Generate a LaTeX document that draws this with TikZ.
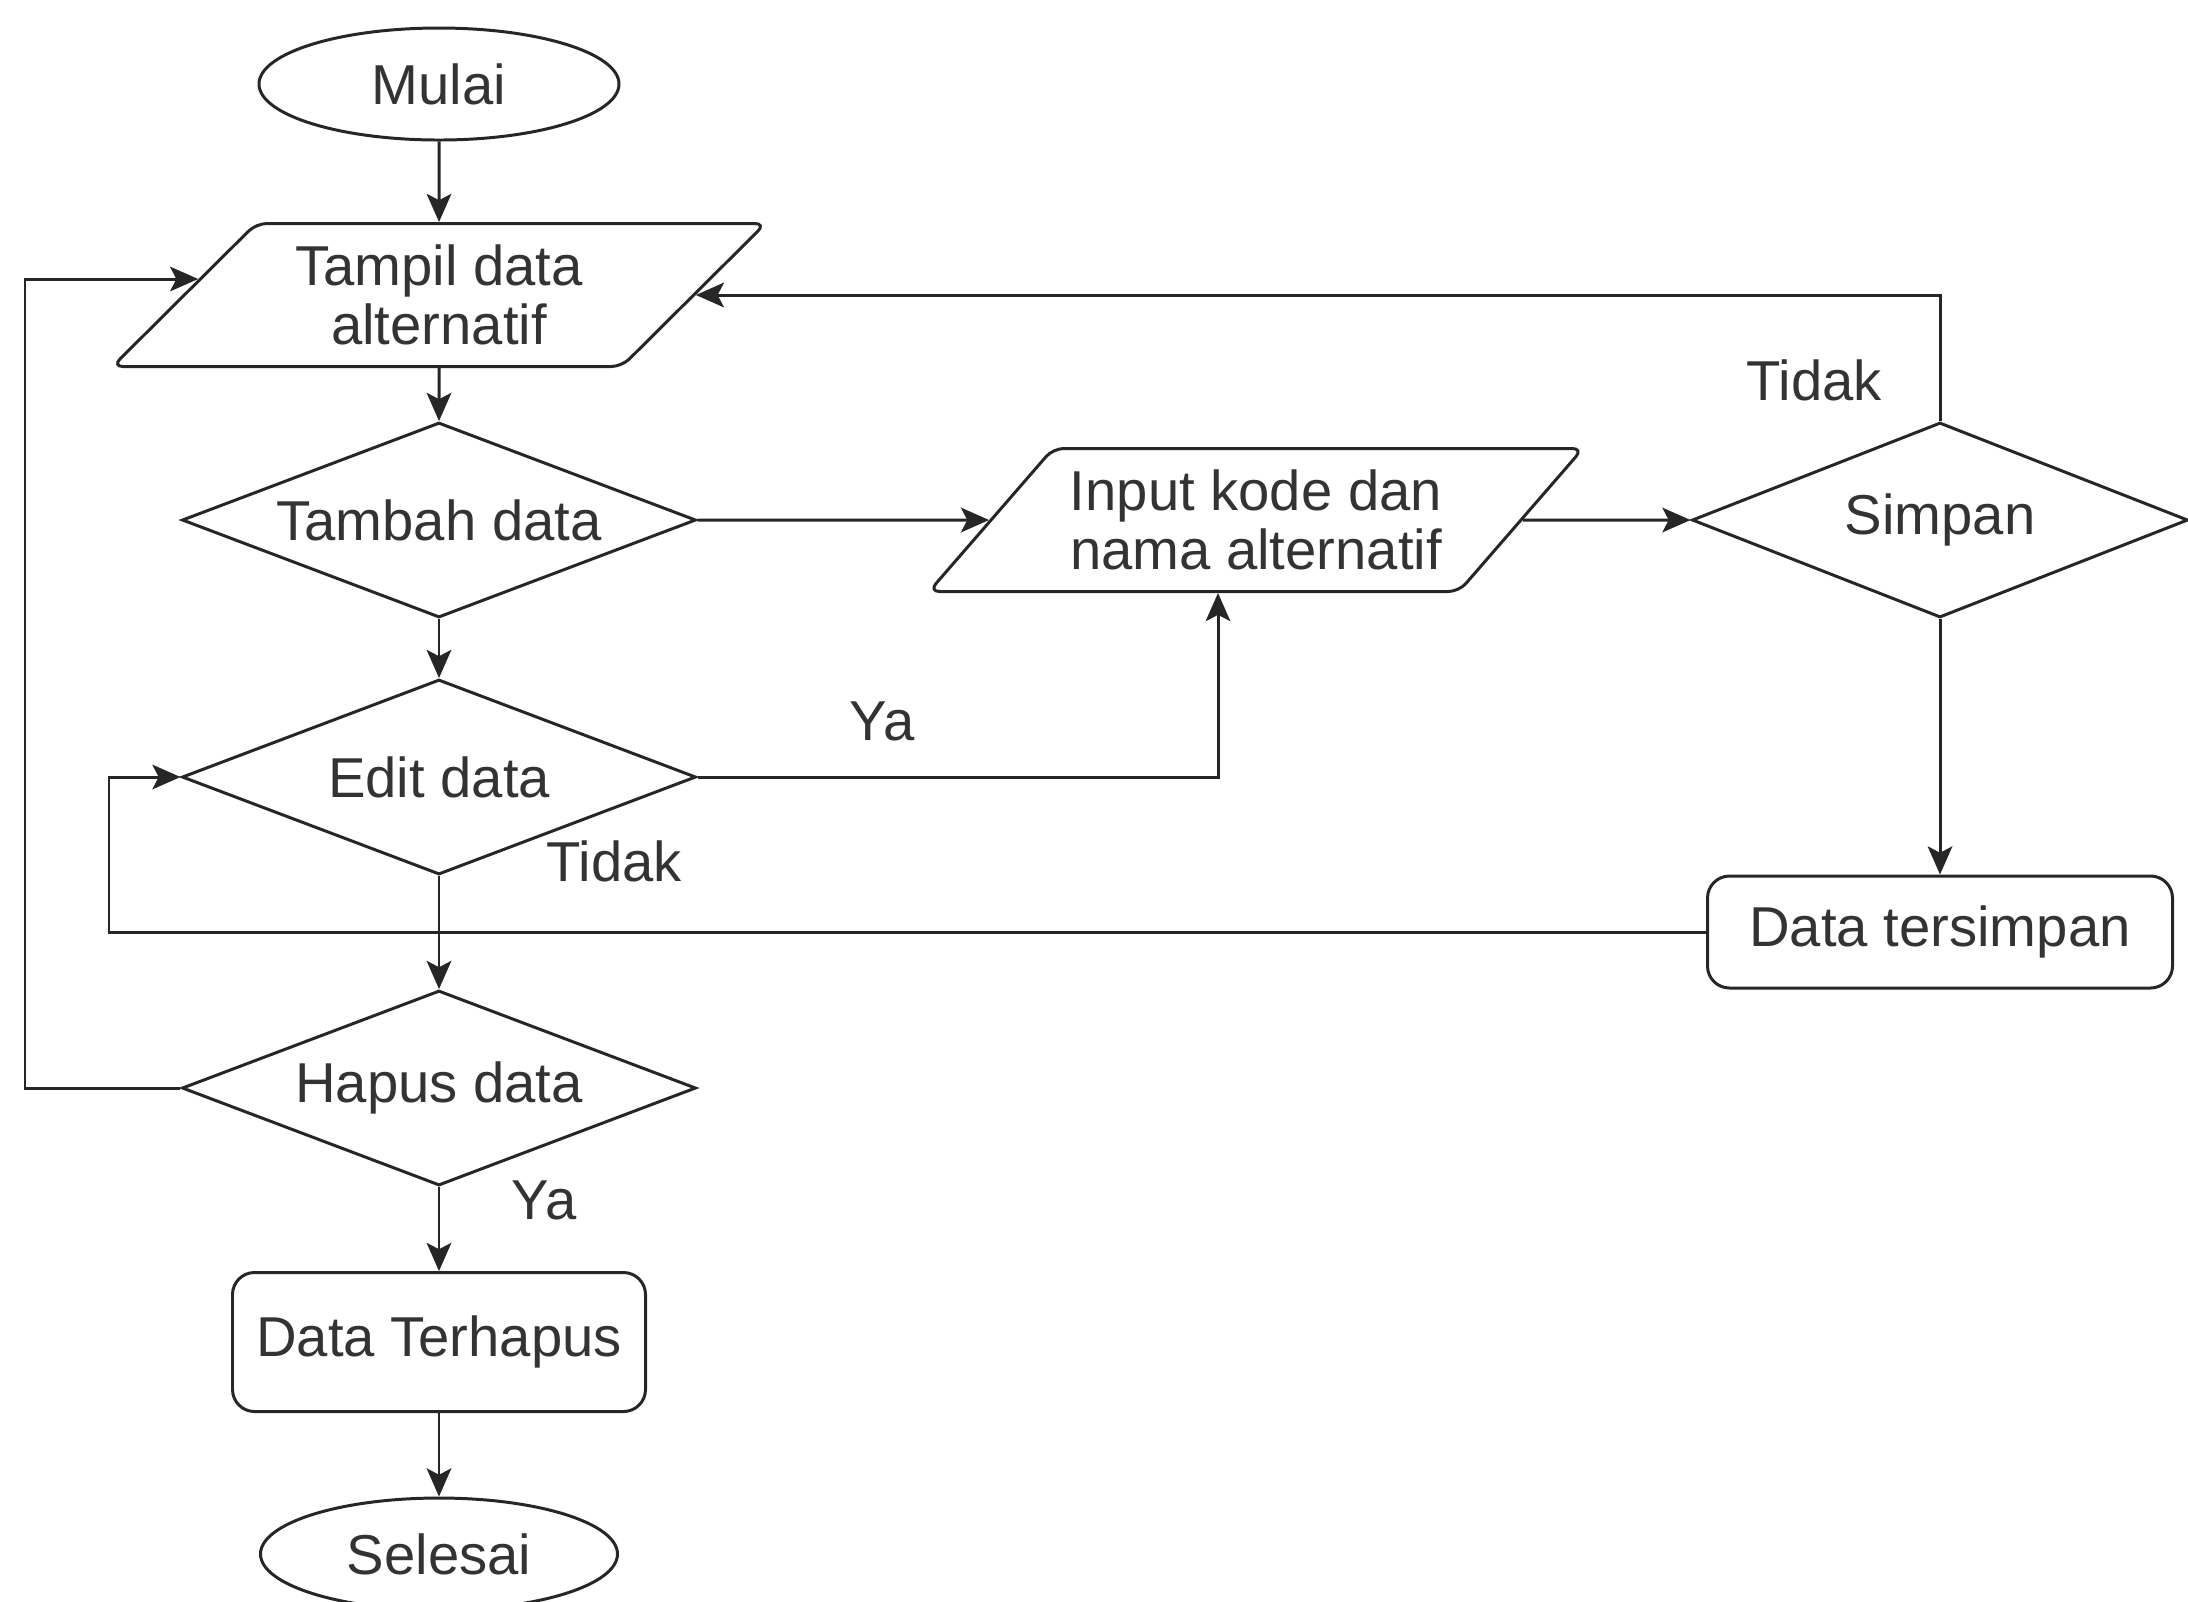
\documentclass[tikz,border=0pt]{standalone}
\usepackage{fontspec}
\setmainfont{Liberation Sans}
\usetikzlibrary{positioning, calc, arrows.meta, shapes.geometric}

\begin{document}
\begin{tikzpicture}[>={Stealth[length=8pt,width=7pt,inset=1.8pt]},
    font=\fontsize{16}{17}\selectfont, text=black!80, line width=0.85pt,
    base/.style={draw=black!85, align=center, inner sep=1pt},
    terminal/.style={base, ellipse, minimum width=3.6cm, minimum height=1.12cm},
    io/.style={base, trapezium, trapezium left angle=43, trapezium right angle=137,
        trapezium stretches=true, rounded corners=3pt, minimum width=6.54cm, minimum height=1.43cm},
    decision/.style={base, diamond, shape aspect=2.6, minimum width=5.14cm, minimum height=1.95cm},
    process/.style={base, rectangle, rounded corners=0.22cm},
    arr/.style={->, draw=black!85},
    lbl/.style={inner sep=0pt}]

    % Page
    \useasboundingbox (0,0) rectangle (21.88,-16.01);

    % Main column
    \node[terminal] (mulai) at (4.39,-0.84) {Mulai};
    \node[io] (tampil) at (4.39,-2.95) {Tampil data\\alternatif};
    \node[decision] (tambah) at (4.39,-5.20) {Tambah data};
    \node[decision] (edit) at (4.39,-7.77) {Edit data};
    \node[decision] (hapus) at (4.39,-10.88) {Hapus data};
    \node[process, minimum width=4.13cm, minimum height=1.39cm] (terhapus) at (4.39,-13.42) {Data Terhapus};
    \node[terminal, minimum width=3.57cm] (selesai) at (4.39,-15.54) {Selesai};

    % Right part
    \node[io] (input) at (12.56,-5.20) {Input kode dan\\nama alternatif};
    \node[decision, minimum width=4.96cm] (simpan) at (19.40,-5.20) {Simpan};
    \node[process, minimum width=4.65cm, minimum height=1.12cm] (tersimpan) at (19.40,-9.32) {Data tersimpan};

    % Labels
    \node[lbl] (yaEdit) at (8.82,-7.21) {Ya};
    \node[lbl] (tidakEdit) at (6.14,-8.61) {Tidak};
    \node[lbl] (yaHapus) at (5.44,-12.00) {Ya};
    \node[lbl] (tidakSimpan) at (18.14,-3.80) {Tidak};

    % Bends
    \coordinate (backEdit) at (1.09,-9.32);
    \coordinate (backTampil) at (0.25,-10.88);
    \coordinate (upInput) at (12.18,-7.77);

    % Flow
    \draw[arr] (mulai) -- (tampil);
    \draw[arr] (tampil) -- (tambah);
    \draw[arr] (tambah) -- (edit);
    \draw[arr] (edit) -- (hapus);
    \draw[arr] (hapus) -- (terhapus);
    \draw[arr] (terhapus) -- (selesai);
    \draw[arr] (tambah) -- (input);
    \draw[arr] (input) -- (simpan);
    \draw[arr] (simpan) |- (tampil);
    \draw[arr] (simpan) -- (tersimpan);
    \draw[arr] (tersimpan) -- (backEdit) |- (edit);
    \draw[arr] (edit) -- (upInput) -- (upInput |- input.south);
    \draw[arr] (hapus) -- (backTampil) |- ($(tampil.west)+(0.16,0.16)$);
\end{tikzpicture}
\end{document}
